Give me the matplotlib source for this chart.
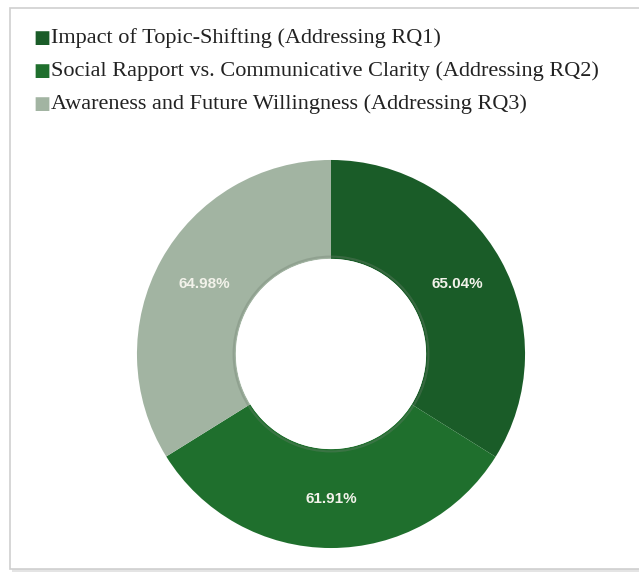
import matplotlib.pyplot as plt
import numpy as np
from matplotlib.patches import Rectangle

etiquetas = ["Impact of Topic-Shifting (Addressing RQ1)",
             "Social Rapport vs. Communicative Clarity (Addressing RQ2)",
             "Awareness and Future Willingness (Addressing RQ3)"]
valores = [65.04, 61.91, 64.98]
colores = ["#1a5c28", "#1f6f2d", "#a2b4a2"]

W, H = 639, 576
fig = plt.figure(figsize=(W / 100, H / 100), dpi=100)
fig.patch.set_facecolor("white")

# marco con sombra
fig.add_artist(Rectangle((12 / W, 1 - 572 / H), 640 / W, 562 / H, transform=fig.transFigure,
                         facecolor="#e4e4e4", edgecolor="none", zorder=0))
fig.add_artist(Rectangle((10 / W, 1 - 569 / H), 640 / W, 561 / H, transform=fig.transFigure,
                         facecolor="white", edgecolor="#cfcfcf", lw=1.2, zorder=0.5))

# donut: centro ~(331, 354), radio ~195 px, hueco ~96 px
cx, cy, r = 331, 354, 195
ancho = 0.51
ax = fig.add_axes([(cx - r) / W, 1 - (cy + r) / H, 2 * r / W, 2 * r / H])
ax.set_zorder(2)
ax.patch.set_alpha(0)
wedges, _ = ax.pie(valores, colors=colores, startangle=90, counterclock=False, radius=1,
                   wedgeprops=dict(width=ancho, edgecolor="none", linewidth=0))
# leve sombra en el borde interior
ax.add_patch(plt.Circle((0, 0), 1 - ancho + 0.012, facecolor="none",
                        edgecolor="#6f806f", lw=1.5, alpha=0.35, zorder=3))
ax.add_patch(plt.Circle((0, 0), 1 - ancho, facecolor="white", edgecolor="none", zorder=4))
ax.set_aspect("equal")
ax.set_xlim(-1.005, 1.005)
ax.set_ylim(-1.005, 1.005)

total = sum(valores)
ang = 90.0
for v in valores:
    a = ang - v / total * 360 / 2
    rr = 1 - ancho / 2
    ax.text(rr * np.cos(np.radians(a)), rr * np.sin(np.radians(a)), f"{v:.2f}%",
            ha="center", va="center", color="#f2f2ea", fontsize=11, weight="bold",
            family="Liberation Sans", zorder=5)
    ang -= v / total * 360

# leyenda
for i, (lab, col) in enumerate(zip(etiquetas, colores)):
    y = 1 - (38 + 33 * i) / H
    fig.text(33 / W, y, "\u25A0", color=col, fontsize=13, va="center", ha="left",
             family="DejaVu Sans", zorder=3)
    fig.text(51 / W, y, lab, color="#222222", fontsize=16, va="center", ha="left",
             family="Liberation Serif", zorder=3)

fig.savefig("out.png", dpi=100)
